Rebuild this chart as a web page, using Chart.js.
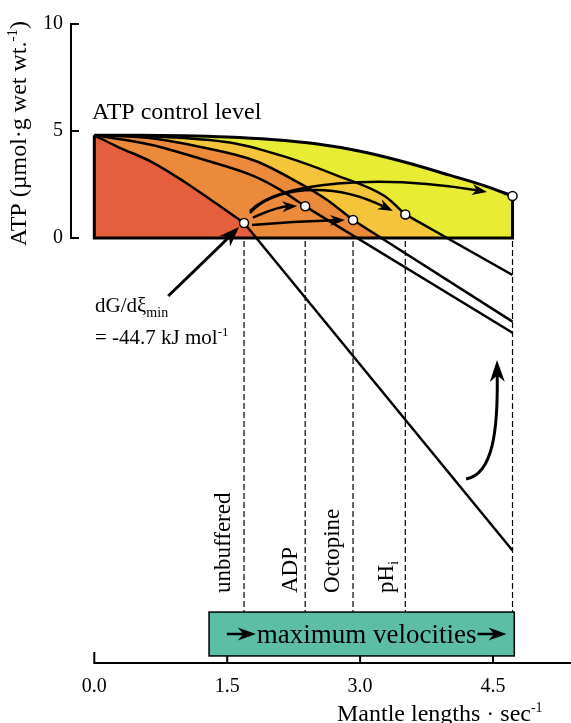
<!DOCTYPE html>
<html>
<head>
<meta charset="utf-8">
<script src="https://cdn.jsdelivr.net/npm/chart.js@4.4.0/dist/chart.umd.min.js"></script>
<style>
  html, body { margin: 0; padding: 0; background: #fff; }
  #wrap { width: 571px; height: 723px; position: relative; }
</style>
</head>
<body>
<div id="wrap"><canvas id="chart"></canvas></div>
<script>
const serif = '"Liberation Serif", "Times New Roman", serif';

const xTicks = [0, 1.5, 3.0, 4.5];
const yTicks = [0, 5, 10];

// ATP minimum for each case (dashed guides go down from here)
const caseNames = ['unbuffered', 'ADP', 'Octopine', 'pHi'];
const minX = [1.69, 2.38, 2.92, 3.51, 4.72];
const minY = [0.70, 1.48, 0.84, 1.10, 1.96];

const controlLevel = 4.8;
const maxVel = 4.72;

// ATP decline curves, control level down to each minimum
const topX = [0, 0.5, 1.0, 1.5, 2.0, 2.5, 3.0, 3.5, 4.0, 4.4, 4.72];
const topY = [4.8, 4.8, 4.78, 4.72, 4.6, 4.4, 4.05, 3.55, 2.95, 2.45, 1.96];
const phX = [0, 0.8, 1.59, 2.15, 2.72, 3.28, 3.51];
const phY = [4.8, 4.72, 4.42, 3.8, 2.95, 1.95, 1.10];
const octX = [0, 0.6, 1.2, 1.82, 2.3, 2.62, 2.92];
const octY = [4.8, 4.68, 4.25, 3.6, 2.6, 1.8, 0.84];
const adpX = [0, 0.65, 1.2, 1.82, 2.1, 2.38];
const adpY = [4.8, 4.35, 3.7, 2.86, 2.25, 1.48];
const unbX = [0, 0.27, 0.65, 1.02, 1.40, 1.69];
const unbY = [4.8, 4.25, 3.55, 2.62, 1.54, 0.70];

// straight declines past the minima, value at maxVel
const endY = [-14.6, -4.43, -3.91, -1.73];

// teal "maximum velocities" box
const velBoxX = [1.295, 4.74];
const velBoxY = [-17.48, -19.53];

// arrows from the unbuffered minimum (cubic control points, data units)
const shiftArrows = [
  [[1.79, 0.95], [1.98, 1.30], [2.10, 1.45], [2.29, 1.50]],
  [[1.78, 0.61], [2.1, 0.72], [2.5, 0.80], [2.83, 0.84]],
  [[1.757, 1.17], [2.0, 2.35], [2.661, 2.71], [3.37, 1.26]],
  [[1.757, 1.26], [2.08, 2.65], [3.225, 2.99], [4.432, 2.15]]
];
const pointerArrow = [[0.834, -2.71], [1.20, -1.25], [1.40, -0.45], [1.633, 0.51]];
const curvedArrow = [[4.196, -11.26], [4.50, -11.03], [4.556, -8.97], [4.545, -5.70]];

const pts = (xs, ys) => xs.map((x, i) => ({ x: x, y: ys[i] }));

const red = '#e65f3c';
const orange = '#ec8a3b';
const gold = '#f4c43b';
const yellow = '#e8ec33';

function curveLine(xs, ys, w) {
  return { data: pts(xs, ys), borderColor: '#000', borderWidth: w || 2.5, pointRadius: 0,
           fill: false, cubicInterpolationMode: 'monotone' };
}
function straightLine(i) {
  return { data: [{ x: minX[i], y: minY[i] }, { x: maxVel, y: endY[i] }], borderColor: '#000',
           borderWidth: 2.5, pointRadius: 0, fill: false, tension: 0 };
}
function fillArea(xs, ys, i, color) {
  const d = pts(xs, ys);
  if (i !== null) d.push({ x: maxVel, y: endY[i] });
  return { data: d, borderWidth: 0, borderColor: 'rgba(0,0,0,0)', pointRadius: 0,
           cubicInterpolationMode: 'monotone',
           fill: { target: { value: 0 }, above: color, below: 'rgba(0,0,0,0)' } };
}

function drawRuns(ctx, x, y, runs) {
  let cx = x;
  runs.forEach(r => {
    ctx.font = r.size + 'px ' + serif;
    ctx.fillText(r.text, cx, y + (r.dy || 0));
    cx += ctx.measureText(r.text).width;
  });
}

function arrowHead(ctx, x, y, ang, len, wid) {
  ctx.save();
  ctx.translate(x, y);
  ctx.rotate(ang);
  ctx.beginPath();
  ctx.moveTo(0, 0);
  ctx.lineTo(-len, -wid / 2);
  ctx.lineTo(-len * 0.7, 0);
  ctx.lineTo(-len, wid / 2);
  ctx.closePath();
  ctx.fill();
  ctx.restore();
}

function bezierArrow(ctx, P, lw, len, wid) {
  const dx = P[3][0] - P[2][0], dy = P[3][1] - P[2][1];
  const ang = Math.atan2(dy, dx);
  const ex = P[3][0] - Math.cos(ang) * len * 0.7, ey = P[3][1] - Math.sin(ang) * len * 0.7;
  ctx.lineWidth = lw;
  ctx.beginPath();
  ctx.moveTo(P[0][0], P[0][1]);
  ctx.bezierCurveTo(P[1][0], P[1][1], P[2][0], P[2][1], ex, ey);
  ctx.stroke();
  arrowHead(ctx, P[3][0], P[3][1], ang, len, wid);
}

const drawings = {
  id: 'drawings',
  afterDatasetsDraw(chart) {
    const ctx = chart.ctx;
    const X = v => chart.scales.x.getPixelForValue(v);
    const Y = v => chart.scales.y.getPixelForValue(v);
    const toPx = P => P.map(p => [X(p[0]), Y(p[1])]);
    const area = chart.chartArea;
    ctx.save();
    ctx.fillStyle = '#000';
    ctx.strokeStyle = '#000';

    // dashed guides
    ctx.setLineDash([6, 3]);
    ctx.lineWidth = 1.2;
    minX.forEach(x => {
      ctx.beginPath();
      ctx.moveTo(X(x), Y(0) + 3);
      ctx.lineTo(X(x), Y(velBoxY[0]));
      ctx.stroke();
    });
    ctx.setLineDash([]);

    // axes
    ctx.lineWidth = 2;
    ctx.beginPath();
    ctx.moveTo(area.left, Y(yTicks[yTicks.length - 1]));
    ctx.lineTo(area.left, Y(0));
    yTicks.forEach(v => { ctx.moveTo(area.left - 1, Y(v)); ctx.lineTo(area.left + 8, Y(v)); });
    ctx.moveTo(X(0), area.bottom);
    ctx.lineTo(chart.width, area.bottom);
    xTicks.forEach(v => { ctx.moveTo(X(v), area.bottom + 1); ctx.lineTo(X(v), area.bottom - 11); });
    ctx.stroke();

    // velocity box
    const bx0 = X(velBoxX[0]), bx1 = X(velBoxX[1]), by0 = Y(velBoxY[0]), by1 = Y(velBoxY[1]);
    ctx.fillStyle = '#5dbea6';
    ctx.fillRect(bx0, by0, bx1 - bx0, by1 - by0);
    ctx.lineWidth = 1.5;
    ctx.strokeRect(bx0, by0, bx1 - bx0, by1 - by0);
    ctx.fillStyle = '#000';
    ctx.font = '27px ' + serif;
    ctx.textBaseline = 'alphabetic';
    const vt = 'maximum velocities';
    const tw = ctx.measureText(vt).width;
    const tx = (bx0 + bx1) / 2 + 5 - tw / 2;
    const tyb = (by0 + by1) / 2 + 9;
    ctx.fillText(vt, tx, tyb);
    const ay = (by0 + by1) / 2;
    ctx.lineWidth = 2.5;
    ctx.beginPath();
    ctx.moveTo(tx - 30, ay); ctx.lineTo(tx - 10, ay);
    ctx.moveTo(tx + tw + 1, ay); ctx.lineTo(tx + tw + 20, ay);
    ctx.stroke();
    arrowHead(ctx, tx - 1, ay, 0, 18, 13);
    arrowHead(ctx, tx + tw + 30, ay, 0, 18, 13);

    // arrows
    ctx.lineCap = 'butt';
    shiftArrows.forEach(a => bezierArrow(ctx, toPx(a), 2.5, 15, 11));
    bezierArrow(ctx, toPx(pointerArrow), 3, 20, 15);
    bezierArrow(ctx, toPx(curvedArrow), 3, 22, 15);

    // vertical case labels
    const lblOff = [14, 8, 14, 12];
    caseNames.forEach((n, i) => {
      ctx.save();
      ctx.translate(X(minX[i]) - lblOff[i], 593);
      ctx.rotate(-Math.PI / 2);
      if (n === 'pHi') drawRuns(ctx, 0, 0, [{ text: 'pH', size: 23 }, { text: 'i', size: 15, dy: 5 }]);
      else drawRuns(ctx, 0, 0, [{ text: n, size: 23 }]);
      ctx.restore();
    });

    // annotations
    drawRuns(ctx, 92, 119, [{ text: 'ATP control level', size: 24 }]);
    drawRuns(ctx, 95, 312, [{ text: 'dG/d\u03be', size: 21 }, { text: 'min', size: 14, dy: 5 }]);
    drawRuns(ctx, 95, 344, [{ text: '= -44.7 kJ mol', size: 21 }, { text: '-1', size: 13, dy: -8 }]);

    // axis titles
    ctx.save();
    ctx.translate(26, 246);
    ctx.rotate(-Math.PI / 2);
    drawRuns(ctx, 0, 0, [{ text: 'ATP (\u00b5mol\u00b7g wet wt.', size: 24 }, { text: '-1', size: 15, dy: -9 }, { text: ')', size: 24 }]);
    ctx.restore();
    drawRuns(ctx, 337, 721, [{ text: 'Mantle lengths \u00b7 sec', size: 24 }, { text: '-1', size: 14, dy: -9 }]);

    ctx.restore();
  }
};

new Chart(document.getElementById('chart'), {
  type: 'line',
  data: {
    datasets: [
      { data: pts(minX, minY), showLine: false, pointRadius: 4.5, pointBackgroundColor: '#fff',
        pointBorderColor: '#000', pointBorderWidth: 1.5 },
      straightLine(0), straightLine(1), straightLine(2), straightLine(3),
      curveLine(unbX, unbY), curveLine(adpX, adpY), curveLine(octX, octY), curveLine(phX, phY),
      curveLine(topX, topY, 3),
      { data: [{ x: maxVel, y: topY[topY.length - 1] }, { x: maxVel, y: 0 }, { x: 0, y: 0 }, { x: 0, y: controlLevel }],
        borderColor: '#000', borderWidth: 3, pointRadius: 0, fill: false, tension: 0 },
      fillArea(unbX, unbY, 0, red),
      fillArea(octX, octY, 2, orange),
      fillArea(phX, phY, 3, gold),
      fillArea(topX, topY, null, yellow)
    ]
  },
  options: {
    responsive: true,
    maintainAspectRatio: false,
    animation: false,
    layout: { autoPadding: false, padding: { top: 24, right: 0, left: 0, bottom: 0 } },
    plugins: { legend: { display: false }, tooltip: { enabled: false } },
    scales: {
      x: {
        type: 'linear', min: -0.263, max: 5.38,
        grid: { display: false, drawTicks: false }, border: { display: false },
        afterBuildTicks: s => { s.ticks = xTicks.map(v => ({ value: v })); },
        afterFit: s => { s.height = 60; s.paddingLeft = 0; s.paddingRight = 0; },
        ticks: { autoSkip: false, maxRotation: 0, padding: 12, color: '#000',
                 font: { family: serif, size: 20 }, callback: v => v.toFixed(1) }
      },
      y: {
        type: 'linear', min: -19.86, max: 10,
        grid: { display: false, drawTicks: false }, border: { display: false },
        afterBuildTicks: s => { s.ticks = yTicks.map(v => ({ value: v })); },
        afterFit: s => { s.width = 71; },
        ticks: { padding: 8, color: '#000', font: { family: serif, size: 20 }, callback: v => String(v) }
      }
    }
  },
  plugins: [drawings]
});
</script>
</body>
</html>
